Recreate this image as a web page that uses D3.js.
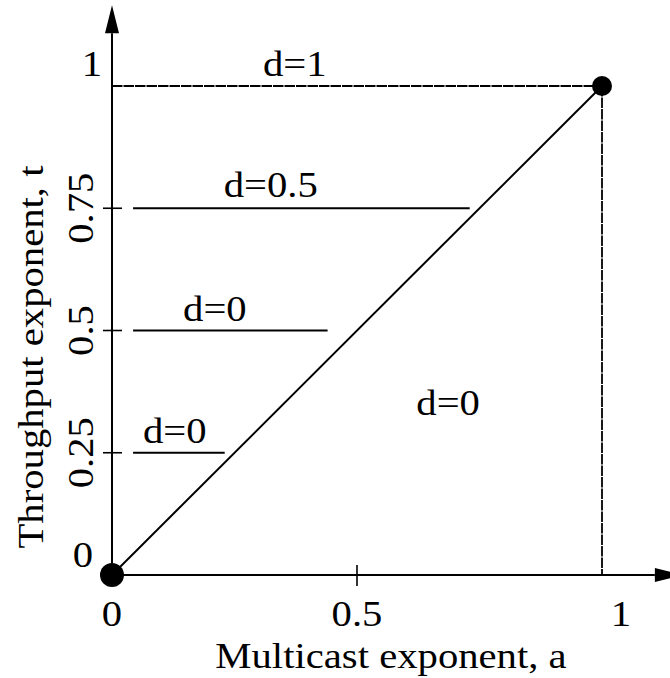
<!DOCTYPE html>
<html>
<head>
<meta charset="utf-8">
<script src="https://cdn.jsdelivr.net/npm/d3@7"></script>
<style>
  html, body { margin: 0; padding: 0; background: #fff; }
  svg { display: block; }
  text { font-family: "Liberation Serif", "Times New Roman", serif; fill: #000; }
</style>
</head>
<body>
<svg id="chart" width="670" height="678"></svg>
<script>
// Region boundaries of the (a, t) plane
const levelT     = [0.75, 0.5, 0.25];          // throughput levels of the short segments
const levelStart = [0.043, 0.043, 0.043];      // segment start, multicast exponent
const levelEnd   = [0.73, 0.44, 0.23];         // segment end, multicast exponent

// Region labels and where they sit (a, t)
const regionText = ["d=1", "d=0.5", "d=0", "d=0", "d=0"];
const regionA    = [0.373, 0.324, 0.21, 0.128, 0.686];
const regionT    = [1.02, 0.772, 0.52, 0.27, 0.327];

// Axis ticks
const xTicks = [0, 0.5, 1];
const xTickLabels = ["0", "0.5", "1"];
const yTicks = [0, 0.25, 0.5, 0.75, 1];
const yTickLabels = ["0", "0.25", "0.5", "0.75", "1"];
const axisMax = 1.165;

const svg = d3.select("#chart");
const x = d3.scaleLinear().domain([0, 1]).range([112, 602]);
const y = d3.scaleLinear().domain([0, 1]).range([575, 86]);

const FS = 36, SX = 1.13;
function label(txt, px, py, rot, anchor) {
  svg.append("text")
    .attr("transform", `translate(${px},${py}) rotate(${rot || 0}) scale(${SX},1)`)
    .attr("text-anchor", anchor || "middle")
    .attr("font-size", FS)
    .text(txt);
}

const line = (x1, y1, x2, y2) => svg.append("line")
  .attr("x1", x1).attr("y1", y1).attr("x2", x2).attr("y2", y2)
  .attr("stroke", "#000").attr("stroke-width", 2);

// Dashed guides to the corner point (1, 1)
line(x(0), y(1), x(1), y(1)).attr("stroke-dasharray", "10.5,1").attr("stroke-width", 1.8);
line(x(1), y(1), x(1), y(0)).attr("stroke-dasharray", "10.5,1").attr("stroke-width", 1.8);

// Axes with arrow heads
const arrowLen = 28, arrowHalf = 7;
line(x(0), y(0), x(axisMax) - arrowLen, y(0));
line(x(0), y(0), x(0), y(axisMax) + arrowLen);
svg.append("polygon")
  .attr("points", [[x(axisMax), y(0)], [x(axisMax) - arrowLen, y(0) - arrowHalf], [x(axisMax) - arrowLen, y(0) + arrowHalf]].join(" "))
  .attr("fill", "#000");
svg.append("polygon")
  .attr("points", [[x(0), y(axisMax)], [x(0) - arrowHalf, y(axisMax) + arrowLen], [x(0) + arrowHalf, y(axisMax) + arrowLen]].join(" "))
  .attr("fill", "#000");

// Tick marks crossing the axes
xTicks.filter(v => v > 0 && v < 1).forEach(v => line(x(v), y(0) - 10, x(v), y(0) + 11).attr("stroke-width", 1.6));
yTicks.filter(v => v > 0 && v < 1).forEach(v => line(x(0) - 9, y(v), x(0) + 10, y(v)).attr("stroke-width", 1.6));

// Diagonal t = a
line(x(0), y(0), x(1), y(1));

// Horizontal level segments
levelT.forEach((t, i) => line(x(levelStart[i]), y(t), x(levelEnd[i]), y(t)));

// Tick labels
xTicks.forEach((v, i) => label(xTickLabels[i], v === 1 ? x(v) + 19 : x(v), 626));
yTicks.forEach((v, i) => {
  if (v === 0) label(yTickLabels[i], 83, 567);
  else if (v === 1) label(yTickLabels[i], 92, 76);
  else label(yTickLabels[i], 93, y(v), -90);
});

// Axis titles
label("Multicast exponent, a", 391, 668);
label("Throughput exponent, t", 43, 357, -90);

// Region labels
regionText.forEach((s, i) => label(s, x(regionA[i]), y(regionT[i])));

// End points
svg.append("circle").attr("cx", x(0)).attr("cy", y(0)).attr("r", 12).attr("fill", "#000");
svg.append("circle").attr("cx", x(1)).attr("cy", y(1)).attr("r", 10).attr("fill", "#000");
</script>
</body>
</html>
